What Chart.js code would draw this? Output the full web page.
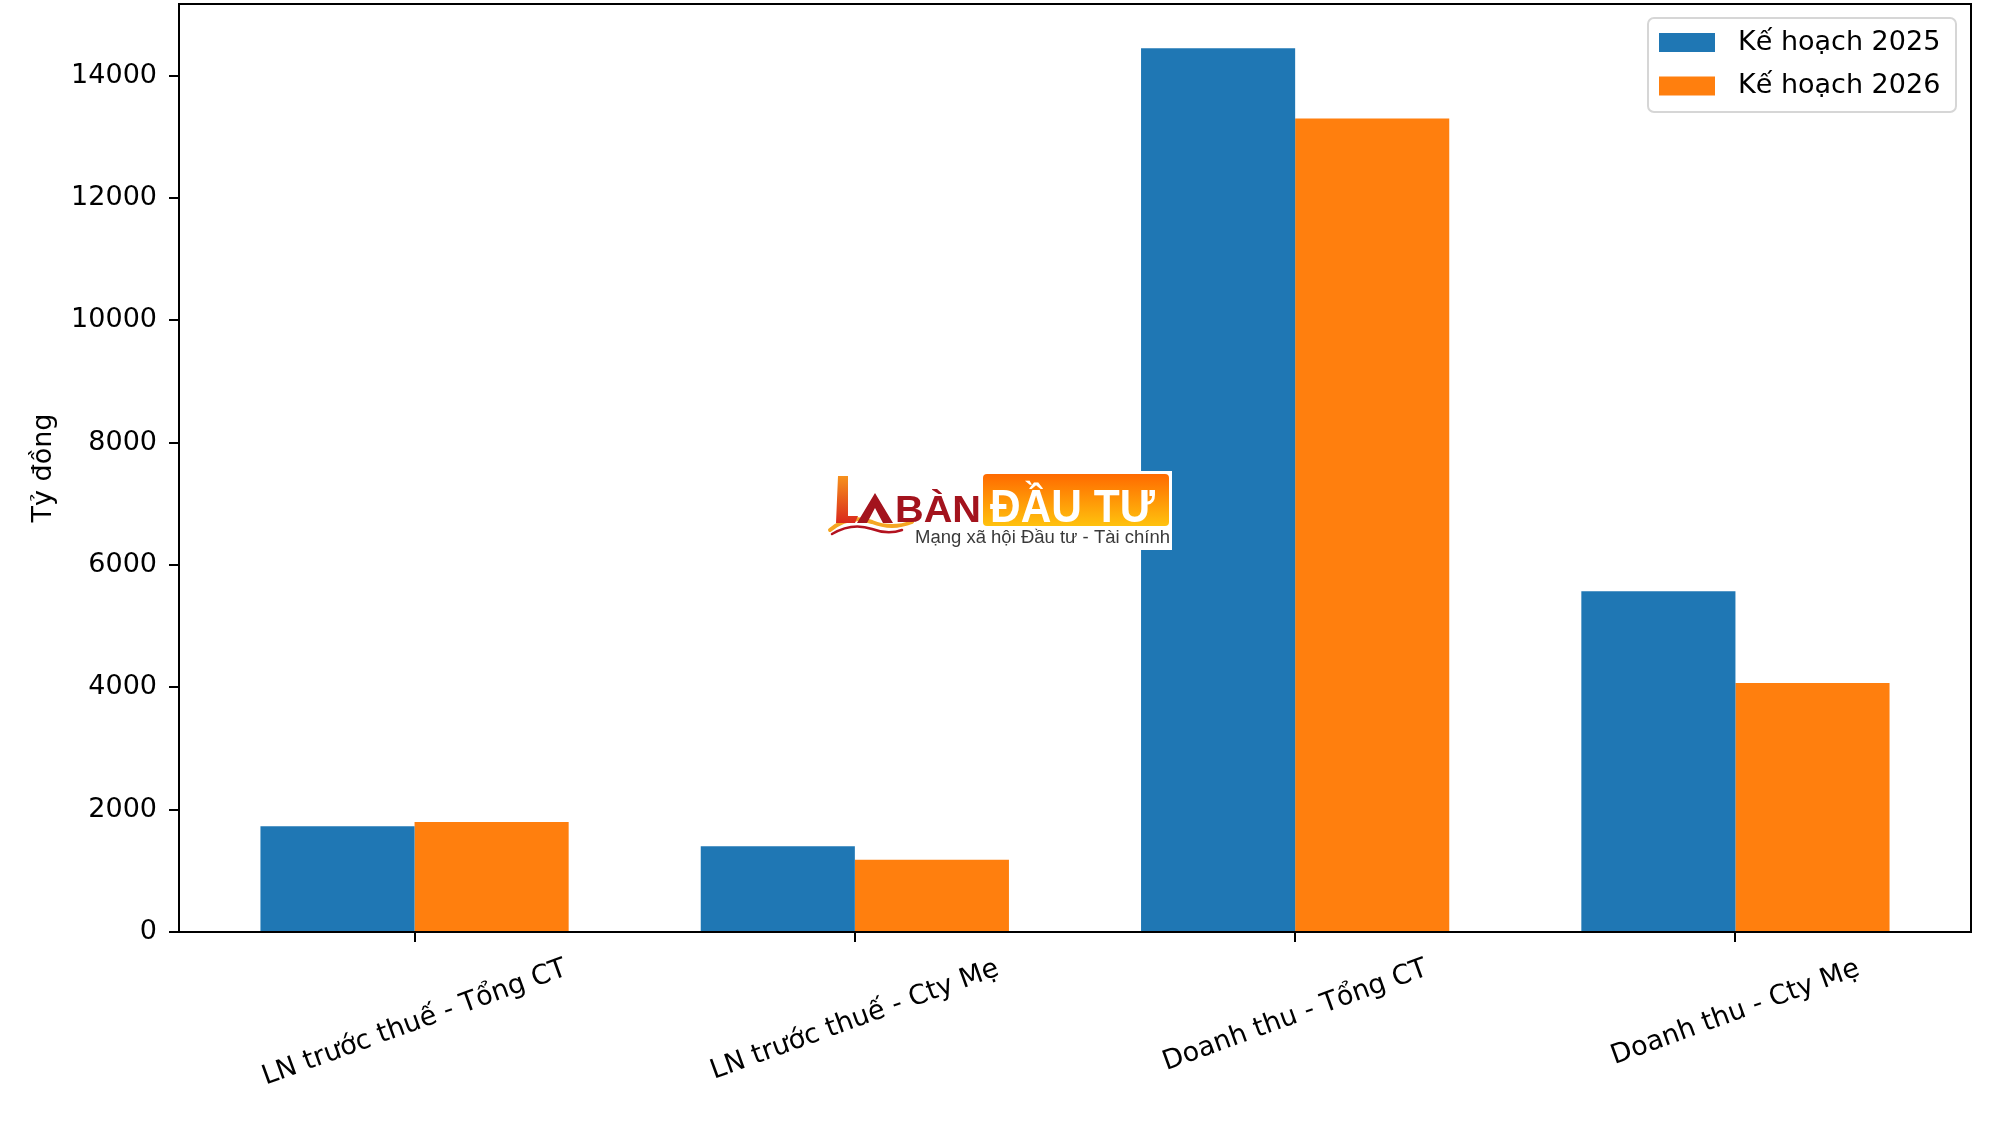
<!DOCTYPE html>
<html>
<head>
<meta charset="utf-8">
<script src="https://cdn.jsdelivr.net/npm/chart.js@4.4.1/dist/chart.umd.min.js"></script>
<style>
  html, body { margin: 0; padding: 0; background: #fff; }
  #wrap { width: 2000px; height: 1124px; position: relative; }
</style>
</head>
<body>
<div id="wrap"><canvas id="planChart"></canvas></div>
<script>
const categories = ['LN trước thuế - Tổng CT', 'LN trước thuế - Cty Mẹ', 'Doanh thu - Tổng CT', 'Doanh thu - Cty Mẹ'];
const seriesNames = ['Kế hoạch 2025', 'Kế hoạch 2026'];
const plan2025 = [1730, 1400, 14450, 5570];
const plan2026 = [1800, 1180, 13300, 4070];
const yTicks = [0, 2000, 4000, 6000, 8000, 10000, 12000, 14000];
const colors = ['#1f77b4', '#ff7f0e'];

const FONT = 'DejaVu Sans';
const groupWidth = 0.7;
// matplotlib style auto limits: 5% margin
const xSpan = (categories.length - 1) + groupWidth;
const xMin = -groupWidth / 2 - 0.05 * xSpan;
const xMax = categories.length - 1 + groupWidth / 2 + 0.05 * xSpan;
const yMax = Math.max(...plan2025, ...plan2026) * 1.05;

// fit text horizontally into a given width
function fitText(ctx, text, x, y, width) {
    const w = ctx.measureText(text).width;
    ctx.save();
    ctx.translate(x, y);
    ctx.scale(width / w, 1);
    ctx.fillText(text, 0, 0);
    ctx.restore();
}

function drawLogo(ctx) {
    ctx.save();
    ctx.fillStyle = '#fff';
    ctx.fillRect(826, 471, 346, 79);

    // swooshes
    ctx.lineCap = 'round';
    ctx.strokeStyle = '#f5a623';
    ctx.lineWidth = 4;
    ctx.beginPath();
    ctx.moveTo(830, 530);
    ctx.quadraticCurveTo(850, 514, 872, 522);
    ctx.quadraticCurveTo(892, 530, 912, 522);
    ctx.stroke();
    ctx.strokeStyle = '#b3121f';
    ctx.lineWidth = 2.5;
    ctx.beginPath();
    ctx.moveTo(832, 534);
    ctx.quadraticCurveTo(852, 522, 872, 529);
    ctx.quadraticCurveTo(888, 535, 902, 530);
    ctx.stroke();

    // L
    const gL = ctx.createLinearGradient(0, 475, 0, 524);
    gL.addColorStop(0, '#f7941d');
    gL.addColorStop(1, '#d9261c');
    ctx.fillStyle = gL;
    ctx.beginPath();
    ctx.moveTo(838, 476);
    ctx.lineTo(848, 476);
    ctx.lineTo(848, 516);
    ctx.lineTo(858, 516);
    ctx.lineTo(855, 523);
    ctx.lineTo(836, 523);
    ctx.closePath();
    ctx.fill();

    // A (no crossbar)
    ctx.fillStyle = '#a3131d';
    ctx.beginPath();
    ctx.moveTo(875, 493);
    ctx.lineTo(893, 523);
    ctx.lineTo(883, 523);
    ctx.lineTo(875, 508);
    ctx.lineTo(867, 523);
    ctx.lineTo(857, 523);
    ctx.closePath();
    ctx.fill();

    // BÀN
    ctx.fillStyle = '#a3131d';
    ctx.font = 'bold 37px "Liberation Sans"';
    ctx.textBaseline = 'alphabetic';
    ctx.textAlign = 'left';
    fitText(ctx, 'BÀN', 895, 522, 86);

    // orange box
    const gB = ctx.createLinearGradient(0, 474, 0, 526);
    gB.addColorStop(0, '#ff6a00');
    gB.addColorStop(1, '#ffc20e');
    ctx.fillStyle = gB;
    ctx.beginPath();
    ctx.roundRect(983, 474, 186, 52, 4);
    ctx.fill();
    ctx.fillStyle = '#fff';
    ctx.font = 'bold 46px "Liberation Sans"';
    fitText(ctx, 'ĐẦU TƯ', 990, 522, 165);

    // tagline
    ctx.fillStyle = '#3a3a3a';
    ctx.font = '18px "Liberation Sans"';
    fitText(ctx, 'Mạng xã hội Đầu tư - Tài chính', 915, 543, 255);
    ctx.restore();
}

const decorations = {
    id: 'decorations',
    afterDatasetsDraw(chart) {
        drawLogo(chart.ctx);
    },
    afterDraw(chart) {
        const ctx = chart.ctx;
        const area = chart.chartArea;
        const xScale = chart.scales.x;
        ctx.save();

        // frame (all four spines)
        ctx.strokeStyle = '#000';
        ctx.lineWidth = 2;
        ctx.strokeRect(area.left, area.top, area.right - area.left, area.bottom - area.top);

        // rotated category labels, centred on the tick like matplotlib
        ctx.fillStyle = '#000';
        ctx.font = '27px "' + FONT + '"';
        ctx.textAlign = 'center';
        ctx.textBaseline = 'middle';
        const rot = 20 * Math.PI / 180;
        const top = area.bottom + 10 + 11;
        categories.forEach((label, i) => {
            const x = xScale.getPixelForValue(i);
            const w = ctx.measureText(label).width;
            const h = 32;
            const H = w * Math.sin(rot) + h * Math.cos(rot);
            ctx.save();
            ctx.translate(x, top + H / 2);
            ctx.rotate(-rot);
            ctx.fillText(label, 0, 0);
            ctx.restore();
        });

        // legend, upper right inside the axes
        const lx = 1648, ly = 18, lw = 308, lh = 94;
        ctx.fillStyle = 'rgba(255,255,255,0.8)';
        ctx.strokeStyle = '#d6d6d6';
        ctx.lineWidth = 2;
        ctx.beginPath();
        ctx.roundRect(lx, ly, lw, lh, 6);
        ctx.fill();
        ctx.stroke();
        ctx.textAlign = 'left';
        chart.data.datasets.forEach((ds, i) => {
            const rowY = 42.5 + i * 43.5;
            ctx.fillStyle = ds.backgroundColor;
            ctx.fillRect(1659, rowY - 9.5, 56, 19);
            ctx.fillStyle = '#000';
            ctx.fillText(ds.label, 1738, rowY);
        });
        ctx.restore();
    }
};

const ctx = document.getElementById('planChart').getContext('2d');
new Chart(ctx, {
    type: 'bar',
    data: {
        datasets: [{
            label: seriesNames[0],
            data: plan2025.map((v, i) => ({ x: i, y: v })),
            backgroundColor: colors[0],
            borderWidth: 0
        }, {
            label: seriesNames[1],
            data: plan2026.map((v, i) => ({ x: i, y: v })),
            backgroundColor: colors[1],
            borderWidth: 0
        }]
    },
    options: {
        responsive: true,
        maintainAspectRatio: false,
        animation: false,
        categoryPercentage: groupWidth,
        barPercentage: 1.0,
        layout: {
            padding: { left: 0, top: 4, right: 29, bottom: 0 }
        },
        scales: {
            x: {
                type: 'linear',
                min: xMin,
                max: xMax,
                offset: false,
                grid: {
                    offset: false,
                    drawOnChartArea: false,
                    drawTicks: true,
                    tickLength: 10,
                    color: '#000',
                    lineWidth: 2
                },
                border: { display: true, color: '#000', width: 2 },
                ticks: {
                    autoSkip: false,
                    callback: () => ''
                },
                afterBuildTicks: (scale) => {
                    scale.ticks = categories.map((c, i) => ({ value: i }));
                },
                afterFit: (scale) => {
                    scale.height = 192;
                    scale.paddingLeft = 0;
                    scale.paddingRight = 0;
                }
            },
            y: {
                min: 0,
                max: yMax,
                grid: {
                    drawOnChartArea: false,
                    drawTicks: true,
                    tickLength: 10,
                    color: '#000',
                    lineWidth: 2
                },
                border: { display: true, color: '#000', width: 2 },
                ticks: {
                    color: '#000',
                    padding: 12,
                    font: { family: FONT, size: 27 },
                    callback: (v) => String(v)
                },
                title: {
                    display: true,
                    text: 'Tỷ đồng',
                    color: '#000',
                    padding: { top: 28, bottom: 0 },
                    font: { family: FONT, size: 27, lineHeight: 1.2 }
                },
                afterBuildTicks: (scale) => {
                    scale.ticks = yTicks.map(v => ({ value: v }));
                },
                afterFit: (scale) => {
                    scale.width = 179;
                    scale.paddingTop = 0;
                    scale.paddingBottom = 0;
                }
            }
        },
        plugins: {
            legend: { display: false },
            tooltip: { enabled: false }
        }
    },
    plugins: [decorations]
});
</script>
</body>
</html>
